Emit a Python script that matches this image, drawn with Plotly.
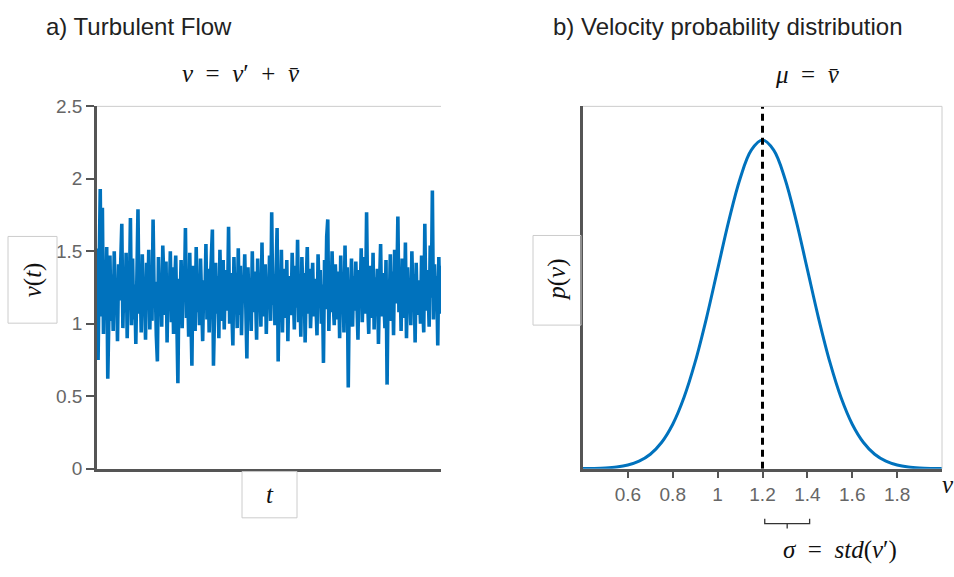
import plotly.graph_objects as go

# ---- panel a: velocity time series v(t) ----
velocity = [
    1.52, 0.75, 1.38, 1.93, 1.05, 1.80, 0.93, 1.44, 1.12, 1.53, 0.62, 0.98, 1.47, 1.02, 1.34, 0.95, 1.50, 1.10, 1.28, 0.88,
    1.41, 1.16, 1.55, 1.69, 0.97, 1.36, 1.08, 1.49, 0.90, 1.30, 1.18, 1.73, 0.99, 1.45, 1.03, 1.27, 0.86, 1.52, 1.79, 1.07,
    1.33, 0.94, 1.48, 1.15, 1.26, 0.89, 1.42, 1.11, 1.51, 0.96, 1.37, 1.02, 1.72, 1.19, 1.29, 0.92, 0.74, 1.46, 1.09, 1.35,
    0.98, 1.54, 1.21, 1.06, 1.43, 0.87, 1.32, 1.14, 1.50, 1.01, 1.39, 0.93, 1.25, 1.47, 1.05, 0.59, 1.31, 1.12, 1.44, 0.97,
    1.36, 1.18, 1.66, 1.04, 1.28, 0.91, 1.49, 1.13, 0.71, 1.40, 1.22, 0.95, 1.53, 1.08, 1.34, 0.99, 1.45, 1.16, 0.88, 1.30,
    1.11, 1.55, 1.03, 1.38, 0.94, 1.26, 1.48, 1.65, 0.71, 1.20, 1.42, 1.07, 1.33, 0.90, 1.51, 1.15, 1.02, 1.44, 0.96, 1.37,
    1.24, 1.09, 1.67, 1.00, 1.35, 1.17, 0.85, 1.46, 1.12, 1.29, 0.97, 1.52, 1.06, 1.40, 0.92, 1.31, 1.19, 1.48, 1.03, 0.76,
    1.39, 1.14, 1.27, 0.95, 1.50, 1.08, 1.36, 1.21, 0.89, 1.45, 1.10, 1.32, 0.98, 1.56, 1.05, 1.25, 1.41, 0.93, 1.30, 1.16,
    1.47, 1.02, 1.77, 1.13, 1.34, 0.99, 1.43, 1.66, 0.74, 1.28, 1.09, 1.51, 0.94, 1.38, 1.20, 1.04, 1.44, 0.88, 1.33, 1.15,
    1.06, 1.49, 1.23, 0.96, 1.40, 1.11, 1.58, 1.01, 1.29, 0.91, 1.46, 1.17, 1.35, 0.87, 1.26, 1.53, 1.07, 1.38, 0.97, 1.22,
    1.42, 1.05, 1.31, 1.14, 0.92, 1.48, 1.19, 1.37, 1.00, 1.27, 0.73, 1.44, 1.10, 1.60, 1.72, 0.95, 1.34, 1.08, 1.50, 1.16,
    0.99, 1.41, 1.24, 1.03, 1.36, 0.90, 1.47, 1.12, 1.30, 0.94, 1.54, 1.06, 1.39, 0.56, 1.25, 1.18, 1.45, 0.98, 1.33, 1.09,
    1.43, 1.20, 0.89, 1.37, 1.13, 1.52, 1.01, 1.28, 1.46, 1.07, 1.77, 1.15, 0.93, 1.40, 1.22, 1.04, 1.49, 0.96, 1.32, 1.11,
    1.38, 0.86, 1.26, 1.55, 1.05, 1.35, 1.17, 0.97, 1.44, 0.58, 1.29, 1.10, 1.48, 1.02, 1.36, 0.92, 1.51, 1.14, 1.23, 1.74,
    1.08, 1.33, 0.95, 1.45, 1.19, 1.04, 1.56, 0.90, 1.39, 1.12, 1.27, 0.99, 1.50, 1.16, 1.34, 0.87, 1.42, 1.06, 1.30, 1.21,
    1.00, 1.47, 1.13, 0.94, 1.69, 1.09, 1.37, 1.25, 0.98, 1.54, 1.18, 1.92, 1.03, 1.41, 1.15, 1.33, 0.85, 1.46, 1.07, 1.40,
]
time_index = list(range(len(velocity)))
a_yticks = [0, 0.5, 1, 1.5, 2, 2.5]
a_yticklabels = ["0", "0.5", "1", "1.5", "2", "2.5"]

# ---- panel b: probability density p(v) ----
v_grid = [0.40, 0.45, 0.50, 0.55, 0.60, 0.65, 0.70, 0.75, 0.80, 0.85, 0.90, 0.95, 1.00, 1.05, 1.10, 1.15,
          1.20, 1.25, 1.30, 1.35, 1.40, 1.45, 1.50, 1.55, 1.60, 1.65, 1.70, 1.75, 1.80, 1.85, 1.90, 1.95, 2.00]
p_v = [0.0007, 0.0018, 0.0044, 0.0102, 0.0222, 0.0455, 0.0876, 0.159, 0.270, 0.432, 0.648, 0.913, 1.210, 1.506, 1.761, 1.934,
       1.995, 1.934, 1.761, 1.506, 1.210, 0.913, 0.648, 0.432, 0.270, 0.159, 0.0876, 0.0455, 0.0222, 0.0102, 0.0044, 0.0018, 0.0007]
mu = 1.2
sigma = 0.2
b_xticks = [0.6, 0.8, 1.0, 1.2, 1.4, 1.6, 1.8]
b_xticklabels = ["0.6", "0.8", "1", "1.2", "1.4", "1.6", "1.8"]

BLUE = "#0072BD"
AXIS = "#555555"
FRAME = "#cccccc"
TICKFONT = dict(family="Liberation Sans, Arial", size=19, color="#666666")
MATH = "Liberation Serif, Times New Roman, serif"
MATHFONT = dict(family=MATH, size=25, color="#111111")
TITLEFONT = dict(family="Liberation Sans, Arial", size=24, color="#222222")
SP = "\u2002"  # en space around operators

W, H = 954, 577
def px(x):
    return x / W
def py(y):
    return 1 - y / H

ax_a = [px(97), px(441)]
ax_b = [px(583), px(942)]
ydom = [py(476), py(100)]

fig = go.Figure()
fig.add_trace(go.Scatter(x=time_index, y=velocity, mode="lines",
                         line=dict(color=BLUE, width=3.6), xaxis="x", yaxis="y",
                         showlegend=False, hoverinfo="skip"))
fig.add_trace(go.Scatter(x=v_grid, y=p_v, mode="lines",
                         line=dict(color=BLUE, width=3, shape="spline", smoothing=1.0),
                         xaxis="x2", yaxis="y2", showlegend=False, hoverinfo="skip"))
# mean marker: vertical dashed line at mu
fig.add_trace(go.Scatter(x=[mu, mu], y=[0, 2.2], mode="lines",
                         line=dict(color="black", width=3, dash="7px,5px"),
                         xaxis="x2", yaxis="y2", showlegend=False, hoverinfo="skip"))

fig.update_layout(
    width=W, height=H,
    margin=dict(l=0, r=0, t=0, b=0),
    paper_bgcolor="white", plot_bgcolor="white",
    xaxis=dict(domain=ax_a, range=[0, len(velocity) - 1], showticklabels=False, ticks="",
               showgrid=False, zeroline=False, showline=True, linecolor=AXIS, linewidth=2.5),
    yaxis=dict(domain=ydom, range=[0, 2.5], tickvals=a_yticks, ticktext=a_yticklabels,
               ticks="outside", ticklen=8, tickwidth=2, tickcolor=AXIS, tickfont=TICKFONT,
               showgrid=False, zeroline=False, showline=True, linecolor=AXIS, linewidth=2.5),
    xaxis2=dict(domain=ax_b, range=[0.4, 2.0], tickvals=b_xticks, ticktext=b_xticklabels,
                ticks="outside", ticklen=7, tickwidth=2, tickcolor=AXIS, tickfont=TICKFONT,
                showgrid=False, zeroline=False, showline=True, linecolor=AXIS, linewidth=2.5,
                anchor="y2"),
    yaxis2=dict(domain=ydom, range=[0, 2.2], showticklabels=False, ticks="",
                showgrid=False, zeroline=False, showline=True, linecolor=AXIS, linewidth=2.5,
                anchor="x2"),
)

shapes = [
    # light frame lines
    dict(type="line", xref="paper", yref="paper", x0=ax_a[0], x1=ax_a[1], y0=ydom[1], y1=ydom[1],
         line=dict(color=FRAME, width=1)),
    dict(type="line", xref="paper", yref="paper", x0=ax_b[0], x1=ax_b[1], y0=ydom[1], y1=ydom[1],
         line=dict(color=FRAME, width=1)),
    dict(type="line", xref="paper", yref="paper", x0=ax_b[1], x1=ax_b[1], y0=ydom[0], y1=ydom[1],
         line=dict(color=FRAME, width=1)),
    # label boxes
    dict(type="rect", xref="paper", yref="paper", x0=px(8), x1=px(57), y0=py(325), y1=py(235),
         line=dict(color=FRAME, width=1)),
    dict(type="rect", xref="paper", yref="paper", x0=px(242), x1=px(297), y0=py(527), y1=py(479),
         line=dict(color=FRAME, width=1)),
    dict(type="rect", xref="paper", yref="paper", x0=px(533), x1=px(581), y0=py(327), y1=py(234),
         line=dict(color=FRAME, width=1)),
    # sigma bracket under the axis, from mu to mu + sigma
    dict(type="path", xref="x2", yref="paper",
         path=f"M {mu + 0.01},{py(528)} L {mu + 0.01},{py(533)} L {mu + sigma + 0.01},{py(533)} L {mu + sigma + 0.01},{py(528)}",
         line=dict(color="#333333", width=1.3)),
    dict(type="line", xref="x2", yref="paper", x0=mu + sigma / 2 + 0.01, x1=mu + sigma / 2 + 0.01,
         y0=py(533), y1=py(538), line=dict(color="#333333", width=1.3)),
]
fig.update_layout(shapes=shapes)

annotations = [
    dict(text="a) Turbulent Flow", x=px(44), y=py(17), xanchor="left", yanchor="middle",
         font=TITLEFONT),
    dict(text="b) Velocity probability distribution", x=px(551), y=py(17), xanchor="left",
         yanchor="middle", font=TITLEFONT),
    dict(text=f"<i>v</i>{SP}={SP}<i>v</i>′{SP}+{SP}<i>v̄</i>", x=px(241), y=py(66),
         xanchor="center", yanchor="middle", font=MATHFONT),
    dict(text=f"<i>μ</i>{SP}={SP}<i>v̄</i>", x=px(807), y=py(67), xanchor="center",
         yanchor="middle", font=MATHFONT),
    dict(text="<i>v</i>(<i>t</i>)", x=px(32.5), y=py(280), xanchor="center", yanchor="middle",
         textangle=-90, font=MATHFONT),
    dict(text="<i>p</i>(<i>v</i>)", x=px(557), y=py(280), xanchor="center", yanchor="middle",
         textangle=-90, font=MATHFONT),
    dict(text="<i>t</i>", x=px(269.5), y=py(503), xanchor="center", yanchor="middle",
         font=MATHFONT),
    dict(text="<i>v</i>", x=px(948), y=py(492), xanchor="center", yanchor="middle",
         font=MATHFONT),
    dict(text=f"<i>σ</i>{SP}={SP}<i>std</i>(<i>v</i>′)", x=px(840), y=py(560), xanchor="center",
         yanchor="middle", font=MATHFONT),
]
for a in annotations:
    a.update(xref="paper", yref="paper", showarrow=False)
fig.update_layout(annotations=annotations)

fig.write_html("out.html")
